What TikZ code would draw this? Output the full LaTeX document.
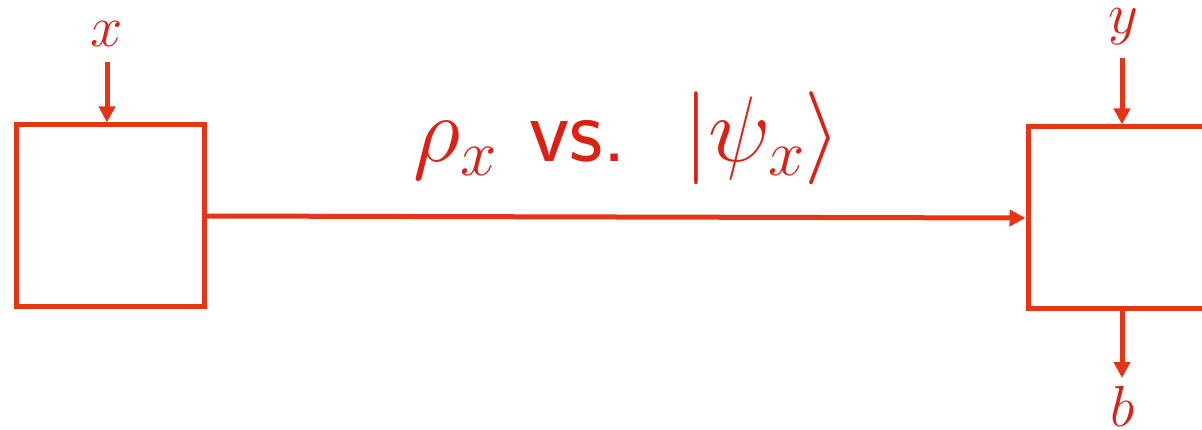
\RequirePackage{fix-cm}
\documentclass[tikz,border=0pt]{standalone}
\usetikzlibrary{arrows.meta}
\definecolor{lineRed}{RGB}{232,52,22}
\definecolor{textRed}{RGB}{220,32,22}
\tikzset{
  boxnode/.style={draw=lineRed, line width=5pt, inner sep=0pt, minimum height=182pt},
  arr/.style={draw=lineRed, line width=5pt, -{Triangle[length=16pt,width=16pt]}},
  lbl/.style={text=textRed, anchor=base, inner sep=0pt, font=\fontsize{58}{60}\selectfont},
}
\begin{document}
\begin{tikzpicture}[x=1pt,y=-1pt]
\useasboundingbox (0,0) rectangle (1202,430);
\node[boxnode, minimum width=188pt] (lbox) at (110,216) {};
\node[boxnode, minimum width=260pt] (rbox) at (1158,218) {};
\draw[arr] (lbox.east) -- (rbox.west);
\node[lbl] (xl) at (107,47) {$x$};
\node[lbl] (yl) at (1123,34) {$y$};
\node[lbl] (bl) at (1123,426) {$b$};
\coordinate (xin) at (107,62);
\coordinate (yin) at (1122,58);
\coordinate (bout) at (1122,378);
\draw[arr] (xin) -- (xin |- lbox.north);
\draw[arr] (yin) -- (yin |- rbox.north);
\draw[arr] (bout |- rbox.south) -- (bout);
\node[text=textRed, anchor=base, inner sep=0pt, font=\fontsize{93}{95}\selectfont] (lab) at (627,162)
  {$\rho_x$\hspace{0.35em}\textsf{vs.}\hspace{0.6em}$|\psi_x\rangle$};
\end{tikzpicture}
\end{document}
